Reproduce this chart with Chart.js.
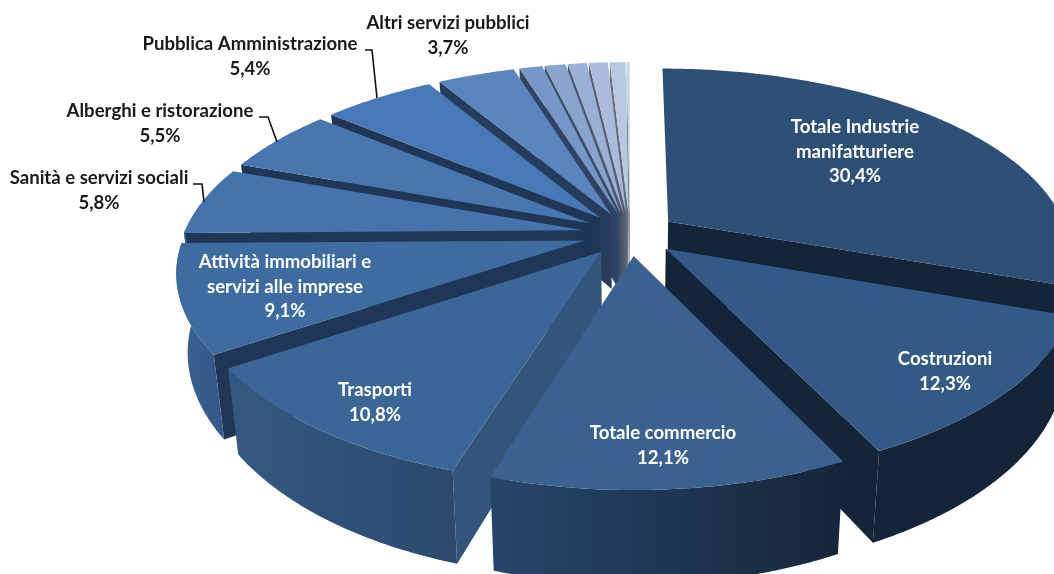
<!DOCTYPE html>
<html>
<head>
<meta charset="utf-8">
<style>html,body{margin:0;padding:0;background:#fff;overflow:hidden}canvas{display:block}</style>
<script src="https://cdn.jsdelivr.net/npm/chart.js@4"></script>
</head>
<body>
<canvas id="c" width="1054" height="574"></canvas>
<script>
const categories = ["Totale Industrie manifatturiere","Costruzioni","Totale commercio","Trasporti","Attività immobiliari e servizi alle imprese","Sanità e servizi sociali","Alberghi e ristorazione","Pubblica Amministrazione","Altri servizi pubblici","","","","","",""];
const shares = [30.4,12.3,12.1,10.8,9.1,5.8,5.5,5.4,3.7,1.1,1.0,0.9,0.9,0.75,0.15];
const topColors = ["#2E5077","#335A86","#3A618F","#3D6698","#3E6BA0","#4573AA","#4877B0","#4878B5","#5B85BD","#7798C6","#89A5CE","#9AB0D5","#AABBDB","#B9C7E2","#CDD6E9"];
const radialColors = ["#14253A","#14253A","#14253A","#325579","#1F3656","#1F3656","#1F3656","#1F3656","#253C5C","#2F4462","#3A4D68","#48586F","#575F72","#686D7A","#7D8088"];
const arcWallFrom = ["#14253A","#14253A","#264669","#34587F","#3A6492","#3B6797","#3B6797","#3B6797","#3B6797","#555","#555","#555","#555","#555","#555"];
const arcWallTo   = ["#14253A","#14253A","#16263A","#2B4A6E","#34598A","#3B6797","#3B6797","#3B6797","#3B6797","#555","#555","#555","#555","#555","#555"];

// projection of the pie disc (a tilted perspective view)
const VIEW = {cx:630, cy:234, rx:400, ry:184, persp:0.176, perspFrontX:0.155, depth:76, shrink:0.975};
const FONT = 'bold 18.6px Lato, sans-serif';
// text placement
const labelBoxes = [
 {x:855,y:127,lines:["Totale Industrie","manifatturiere"],color:"#fff"},
 {x:945,y:359,lines:["Costruzioni"],color:"#fff"},
 {x:663,y:433,lines:["Totale commercio"],color:"#fff"},
 {x:375,y:390,lines:["Trasporti"],color:"#fff"},
 {x:285,y:262,lines:["Attività immobiliari e","servizi alle imprese"],color:"#fff"},
 {x:99,y:178,lines:["Sanità e servizi sociali"],color:"#1a1a1a"},
 {x:160,y:111,lines:["Alberghi e ristorazione"],color:"#1a1a1a"},
 {x:250,y:44,lines:["Pubblica Amministrazione"],color:"#1a1a1a"},
 {x:448,y:23,lines:["Altri servizi pubblici"],color:"#1a1a1a"}
];
const leaders = [
 [[193,184],[202,184],[204,202]],
 [[259,117],[268,117],[277,142]],
 [[365,50],[372,50],[377,98]]
];

function project(u,v){
  const w = 1/(1-VIEW.persp*v);
  const wx = v>0 ? 1/(1-VIEW.perspFrontX*v) : w;
  return {x:VIEW.cx+VIEW.rx*u*wx, y:VIEW.cy+VIEW.ry*v*w, w};
}
function bottom(p){
  return {x:VIEW.cx+(p.x-VIEW.cx)*VIEW.shrink, y:p.y+VIEW.depth*p.w};
}

const pie3d = {
  id:'pie3d',
  beforeDatasetDraw(){ return false; },
  afterDatasetsDraw(chart){
    const ctx = chart.ctx;
    const arcs = chart.getDatasetMeta(0).data;
    const ds = chart.data.datasets[0];
    const order = arcs.map((el,i)=>{
      const p = el.getProps(['startAngle','endAngle','outerRadius','x','y']);
      return {i,el,p,mid:(p.startAngle+p.endAngle)/2};
    }).sort((a,b)=>Math.sin(a.mid)-Math.sin(b.mid));
    ctx.save();
    for(const s of order){
      const R = s.p.outerRadius;
      const e = (ds.offset||0)/R;
      const ou = Math.cos(s.mid)*e, ov = Math.sin(s.mid)*e;
      const rim = a => project(ou+Math.cos(a), ov+Math.sin(a));
      const apex = project(ou,ov);
      const a0 = s.p.startAngle, a1 = s.p.endAngle;
      const face = (a)=>{
        const q = rim(a), qb = bottom(q), ab = bottom(apex);
        ctx.fillStyle = radialColors[s.i];
        ctx.beginPath();
        ctx.moveTo(apex.x,apex.y); ctx.lineTo(q.x,q.y); ctx.lineTo(qb.x,qb.y); ctx.lineTo(ab.x,ab.y);
        ctx.closePath(); ctx.fill();
      };
      if(-Math.cos(a0) > 0) face(a0);
      if(Math.cos(a1) > 0) face(a1);
      // outer wall
      const from = Math.max(a0,0), to = Math.min(a1,Math.PI);
      if(to>from){
        const N = Math.max(2,Math.ceil((to-from)/0.01));
        const pts=[];
        for(let k=0;k<=N;k++) pts.push(rim(from+(to-from)*k/N));
        const xs = pts.map(p=>p.x);
        const g = ctx.createLinearGradient(Math.min(...xs),0,Math.max(...xs)+0.01,0);
        g.addColorStop(0,arcWallFrom[s.i]); g.addColorStop(1,arcWallTo[s.i]);
        ctx.fillStyle=g;
        ctx.beginPath();
        pts.forEach((p,k)=> k?ctx.lineTo(p.x,p.y):ctx.moveTo(p.x,p.y));
        pts.slice().reverse().forEach(p=>{const b=bottom(p);ctx.lineTo(b.x,b.y);});
        ctx.closePath(); ctx.fill();
      }
      // top surface
      ctx.fillStyle = ds.backgroundColor[s.i];
      ctx.beginPath();
      ctx.moveTo(apex.x,apex.y);
      const N = Math.max(4,Math.ceil((a1-a0)/0.01));
      for(let k=0;k<=N;k++){const q=rim(a0+(a1-a0)*k/N);ctx.lineTo(q.x,q.y);}
      ctx.closePath(); ctx.fill();
    }
    // leader lines
    ctx.strokeStyle="#111"; ctx.lineWidth=1.6;
    leaders.forEach(l=>{ctx.beginPath();l.forEach((p,k)=>k?ctx.lineTo(p[0],p[1]):ctx.moveTo(p[0],p[1]));ctx.stroke();});
    // labels
    ctx.font=FONT; ctx.textAlign='center'; ctx.textBaseline='middle';
    labelBoxes.forEach((b,i)=>{
      ctx.fillStyle=b.color;
      b.lines.forEach((t,k)=>ctx.fillText(t,b.x,b.y+k*24.5));
      ctx.fillText(shares[i].toFixed(1).replace('.',',')+'%',b.x,b.y+b.lines.length*24.5);
    });
    ctx.restore();
  }
};

new Chart(document.getElementById('c'),{
  type:'pie',
  data:{labels:categories,datasets:[{data:shares,backgroundColor:topColors,borderWidth:0,offset:32}]},
  options:{responsive:false,animation:false,rotation:0,
    plugins:{legend:{display:false},tooltip:{enabled:false},title:{display:false}}},
  plugins:[pie3d]
});
</script>
</body>
</html>
